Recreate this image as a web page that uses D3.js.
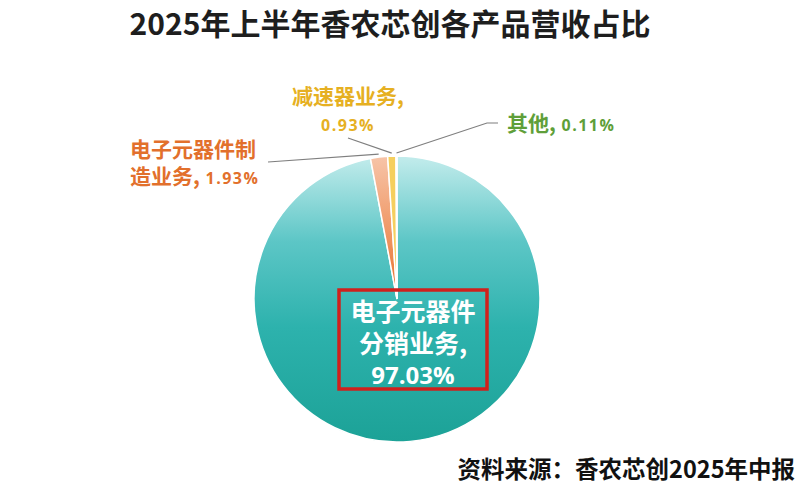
<!DOCTYPE html>
<html lang="zh">
<head>
    <meta charset="UTF-8">
    <title>香农芯创营收占比</title>
    <script src="https://cdn.jsdelivr.net/npm/d3@7/dist/d3.min.js"></script>
    <style>
        body { margin: 0; background: #fff; }
        text { font-family: "Noto Sans CJK SC", sans-serif; }
        .num { font-family: "Open Sans", "Noto Sans", sans-serif; }
    </style>
</head>
<body>
<script>
    // 数据
    const categories = ['电子元器件分销业务', '电子元器件制造业务', '减速器业务', '其他'];
    const shares = [97.03, 1.93, 0.93, 0.11];
    const shareLabels = ['97.03%', '1.93%', '0.93%', '0.11%'];

    const w = 800, h = 495;
    const cx = 397, cy = 299, r = 143;

    const svg = d3.select('body').append('svg')
        .attr('width', w)
        .attr('height', h);

    // 渐变
    const defs = svg.append('defs');
    const gTeal = defs.append('linearGradient').attr('id', 'gTeal')
        .attr('x1', 0).attr('y1', 0).attr('x2', 0).attr('y2', 1);
    gTeal.append('stop').attr('offset', '0%').attr('stop-color', '#c3ecec');
    gTeal.append('stop').attr('offset', '30%').attr('stop-color', '#5cc6c6');
    gTeal.append('stop').attr('offset', '60%').attr('stop-color', '#2db2ad');
    gTeal.append('stop').attr('offset', '100%').attr('stop-color', '#1ca297');

    const gOrange = defs.append('linearGradient').attr('id', 'gOrange')
        .attr('x1', 0).attr('y1', 0).attr('x2', 0).attr('y2', 1);
    gOrange.append('stop').attr('offset', '0%').attr('stop-color', '#f7c4a8');
    gOrange.append('stop').attr('offset', '100%').attr('stop-color', '#e8702a');

    const colors = ['url(#gTeal)', 'url(#gOrange)', '#f5cf5e', '#cfe09a'];

    // 标题
    svg.append('text')
        .attr('x', 390).attr('y', 35)
        .attr('text-anchor', 'middle')
        .attr('font-size', 30)
        .attr('font-weight', 'bold')
        .attr('fill', '#1e1e1e')
        .text('2025年上半年香农芯创各产品营收占比');

    // 饼图
    const pie = d3.pie().sort(null).value(d => d);
    const arcs = pie(shares);
    const arc = d3.arc().innerRadius(0).outerRadius(r);

    const g = svg.append('g').attr('transform', `translate(${cx},${cy})`);
    g.selectAll('path')
        .data(arcs)
        .enter()
        .append('path')
        .attr('d', arc)
        .attr('fill', (d, i) => colors[i])
        .attr('stroke', '#fff')
        .attr('stroke-width', 1.5);

    // 引导线
    const edge = d3.arc().innerRadius(r + 3).outerRadius(r + 3);
    const labelEnds = [null, [[-129, -137]], [[-49, -161]], [[90, -176], [101, -176]]];
    arcs.forEach((d, i) => {
        if (!labelEnds[i]) return;
        const p = edge.centroid(d);
        const pts = [p].concat(labelEnds[i]);
        g.append('path')
            .attr('d', d3.line()(pts))
            .attr('fill', 'none')
            .attr('stroke', '#7f7f7f')
            .attr('stroke-width', 1.2);
    });

    // 标签
    function label(x, y, lines, color, anchor) {
        lines.forEach((ln, k) => {
            const t = svg.append('text')
                .attr('x', x).attr('y', y + k * 27)
                .attr('text-anchor', anchor)
                .attr('fill', color)
                .attr('font-weight', 'bold');
            ln.forEach(part => {
                t.append('tspan')
                    .attr('class', part.num ? 'num' : null)
                    .attr('font-size', part.num ? 16 : 21)
                    .attr('letter-spacing', part.num ? 1.5 : 0)
                    .text(part.s);
            });
        });
    }

    label(130, 157, [
        [{s: categories[1].slice(0, 6)}],
        [{s: categories[1].slice(6) + ','}, {s: ' ' + shareLabels[1], num: true}]
    ], '#e2702c', 'start');

    label(348, 104, [
        [{s: categories[2] + ','}],
        [{s: shareLabels[2], num: true}]
    ], '#e6b022', 'middle');

    label(507, 131, [
        [{s: categories[3] + ','}, {s: ' ' + shareLabels[3], num: true}]
    ], '#5f9f3a', 'start');

    // 主标签框
    svg.append('rect')
        .attr('x', 339).attr('y', 290)
        .attr('width', 148).attr('height', 99)
        .attr('fill', 'none')
        .attr('stroke', '#d0201c')
        .attr('stroke-width', 3.5);

    const mainLines = [categories[0].slice(0, 5), categories[0].slice(5) + ',', shareLabels[0]];
    mainLines.forEach((s, k) => {
        svg.append('text')
            .attr('class', k === 2 ? 'num' : null)
            .attr('x', 413).attr('y', 321 + k * 31.5)
            .attr('text-anchor', 'middle')
            .attr('fill', '#fff')
            .attr('font-weight', 'bold')
            .attr('font-size', k === 2 ? 24 : 25)
            .text(s);
    });

    // 资料来源
    svg.append('text')
        .attr('x', 795).attr('y', 478)
        .attr('text-anchor', 'end')
        .attr('font-size', 23.5)
        .attr('font-weight', 'bold')
        .attr('fill', '#111')
        .text('资料来源：香农芯创2025年中报');
</script>
</body>
</html>
